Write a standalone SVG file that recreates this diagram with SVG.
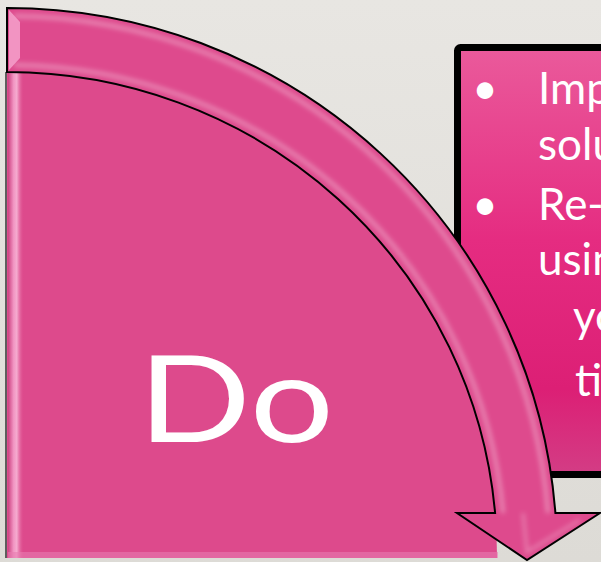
<svg xmlns="http://www.w3.org/2000/svg" width="601" height="562" viewBox="0 0 601 562">
<style>
.txt{font-family:Lato,"Noto Sans","Liberation Sans",sans-serif;fill:#ffffff}
.body{font-size:44px}
.outline{stroke:#000;stroke-width:2;stroke-linejoin:miter}
</style>
<defs>
<linearGradient id="bg" x1="0" y1="0" x2="0" y2="1">
<stop offset="0" stop-color="#e8e6e2"/>
<stop offset="1" stop-color="#dddbd6"/>
</linearGradient>
<linearGradient id="boxg" x1="0" y1="0" x2="0" y2="1">
<stop offset="0" stop-color="#ea5a9b"/>
<stop offset="0.45" stop-color="#e52c81"/>
<stop offset="0.8" stop-color="#dc1f75"/>
<stop offset="1" stop-color="#d33d85"/>
</linearGradient>
<linearGradient id="leftbevel" x1="0" y1="0" x2="1" y2="0">
<stop offset="0" stop-color="#c8407e"/>
<stop offset="0.35" stop-color="#f7a8d0"/>
<stop offset="0.55" stop-color="#fbc4e0"/>
<stop offset="1" stop-color="#dd4a8c" stop-opacity="0"/>
</linearGradient>
<filter id="blur" x="-10%" y="-10%" width="120%" height="120%">
<feGaussianBlur stdDeviation="2.5"/>
</filter>
</defs>
<rect x="0" y="0" width="601" height="562" fill="url(#bg)"/>
<g id="textbox">
<rect x="457.5" y="47.5" width="160" height="427" rx="3" fill="url(#boxg)" stroke="#000" stroke-width="7"/>
<text class="txt body" x="485" y="104" text-anchor="middle">•</text>
<text class="txt body" x="538" y="104">Imp</text>
<text class="txt body" x="538" y="160">solu</text>
<text class="txt body" x="485" y="220" text-anchor="middle">•</text>
<text class="txt body" x="538" y="220">Re-</text>
<text class="txt body" x="538" y="275">usin</text>
<text class="txt body" x="573" y="332">yo</text>
<text class="txt body" x="575" y="396">ti</text>
</g>
<g id="do-node">
<path d="M 7 72 A 490 483 0 0 1 497 555 L 497 558 L 7 558 Z" fill="#dd4a8c"/>
<rect x="8" y="72" width="16" height="486" fill="url(#leftbevel)" opacity="0.8"/>
<rect x="8" y="552" width="490" height="6" fill="#e87cb0" opacity="0.6"/>
<line x1="6" y1="72" x2="6" y2="558" stroke="#333" stroke-width="1.5"/>
<text class="txt" x="138" y="442" font-size="120" textLength="196" lengthAdjust="spacingAndGlyphs">Do</text>
</g>
<g id="connectors">
<path id="arrow" d="M 7 8 A 550 547 0 0 1 555.4 513 L 600 513 L 527 560 L 457 513 L 495.1 513 A 490 483 0 0 0 7 72 Z" fill="#de4a8d" class="outline"/>
<path d="M 14 16 A 541 539 0 0 1 548 513" fill="none" stroke="#ffffff" stroke-opacity="0.35" stroke-width="4" filter="url(#blur)"/>
<path d="M 14 65 A 497 490 0 0 1 503 513" fill="none" stroke="#ffffff" stroke-opacity="0.35" stroke-width="4" filter="url(#blur)"/>
<path d="M 9 10 L 20 22 L 20 58 L 9 70 Z" fill="#f6a6cf" opacity="0.8"/>
<path d="M 523 513 L 527 552 L 580 520" fill="none" stroke="#ffffff" stroke-opacity="0.3" stroke-width="3" filter="url(#blur)"/>
</g>
</svg>
